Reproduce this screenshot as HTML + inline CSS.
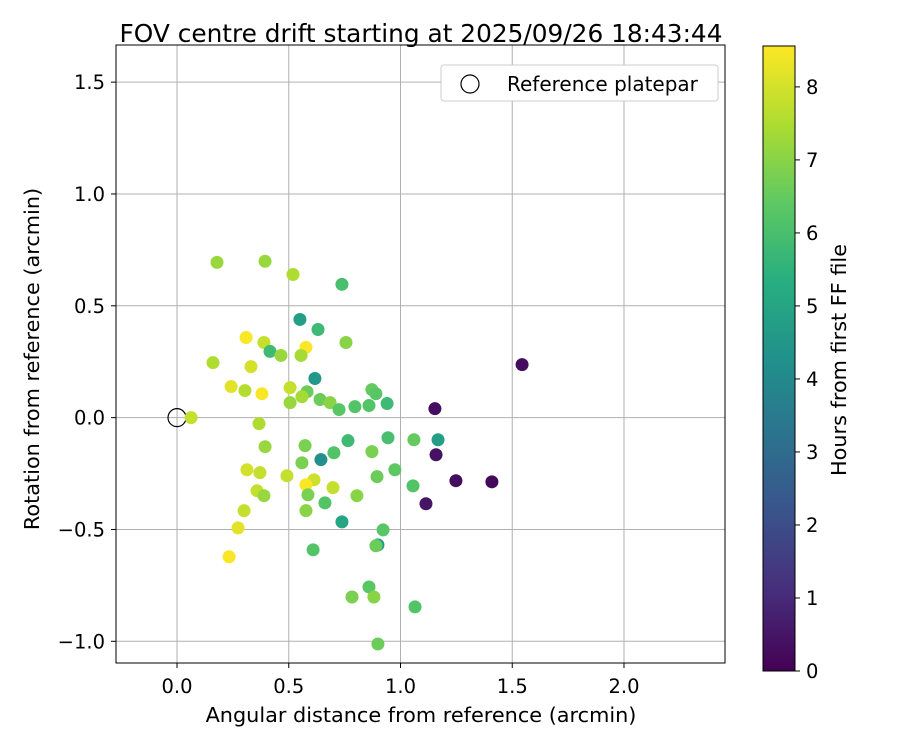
<!DOCTYPE html>
<html><head><meta charset="utf-8"><style>
body{margin:0;background:#fff;font-family:"DejaVu Sans","Liberation Sans",sans-serif}
svg text{font-family:"DejaVu Sans","Liberation Sans",sans-serif;fill:#000}
</style></head><body>
<svg id="chart" width="900" height="750" viewBox="0 0 900 750" xmlns="http://www.w3.org/2000/svg">
<defs>
<linearGradient id="vir" x1="0" y1="1" x2="0" y2="0">
<stop offset="0" stop-color="#440154"/><stop offset="0.125" stop-color="#472d7b"/><stop offset="0.25" stop-color="#3b528b"/><stop offset="0.375" stop-color="#2c728e"/><stop offset="0.5" stop-color="#21918c"/><stop offset="0.625" stop-color="#28ae80"/><stop offset="0.75" stop-color="#5ec962"/><stop offset="0.875" stop-color="#addc30"/><stop offset="1" stop-color="#fde725"/>
</linearGradient>
</defs>
<g id="grid"></g>
<g id="points"></g>
<rect x="116" y="45" width="609" height="618" fill="none" stroke="#000" stroke-width="1"/>
<g id="axes"></g>
<text x="421" y="42" font-size="24.8" text-anchor="middle">FOV centre drift starting at 2025/09/26 18:43:44</text>
<text x="421" y="722" font-size="20.8" text-anchor="middle">Angular distance from reference (arcmin)</text>
<text transform="translate(39,359) rotate(-90)" font-size="20.8" text-anchor="middle">Rotation from reference (arcmin)</text>
<g>
<rect x="441" y="65" width="277" height="36" rx="3" fill="#fff" stroke="#ccc"/>
<circle cx="470" cy="84" r="9" fill="none" stroke="#000" stroke-width="1.2"/>
<text x="507" y="91" font-size="20">Reference platepar</text>
</g>
<rect x="763" y="46" width="32" height="625" fill="url(#vir)" stroke="#000" stroke-width="1"/>
<g id="cbticks"></g>
<text transform="translate(846,360) rotate(-90)" font-size="20.8" text-anchor="middle">Hours from first FF file</text>
</svg>
<script>
const xTicks=[0.0,0.5,1.0,1.5,2.0];
const yTicks=[-1.0,-0.5,0.0,0.5,1.0,1.5];
const cbTicks=[0,1,2,3,4,5,6,7,8];
const xs=[0.063,0.179,0.394,0.519,0.738,0.550,0.631,0.309,0.389,0.756,0.577,0.416,0.465,0.555,0.161,0.331,1.544,0.617,0.242,0.506,0.380,0.304,0.582,0.559,0.872,0.890,0.640,0.506,0.685,0.940,0.725,0.796,0.859,1.154,0.367,0.765,1.060,1.168,0.944,0.394,0.573,1.159,0.872,0.702,0.644,0.559,0.313,0.371,0.492,0.975,0.895,1.248,1.409,0.613,0.577,0.698,1.056,0.358,0.389,0.586,0.805,0.662,1.114,0.300,0.577,0.738,0.273,0.922,0.233,0.609,0.899,0.890,0.859,0.783,0.881,1.065,0.899];
const ys=[0,0.694,0.699,0.640,0.596,0.439,0.394,0.358,0.336,0.336,0.314,0.296,0.278,0.278,0.246,0.228,0.237,0.175,0.139,0.134,0.107,0.121,0.116,0.094,0.125,0.107,0.081,0.067,0.067,0.063,0.036,0.049,0.054,0.040,-0.027,-0.103,-0.099,-0.099,-0.090,-0.130,-0.125,-0.166,-0.152,-0.157,-0.188,-0.202,-0.233,-0.246,-0.260,-0.233,-0.264,-0.282,-0.287,-0.278,-0.300,-0.313,-0.305,-0.327,-0.349,-0.345,-0.349,-0.381,-0.385,-0.416,-0.416,-0.466,-0.493,-0.502,-0.622,-0.591,-0.569,-0.573,-0.757,-0.802,-0.802,-0.846,-1.012];
const hours=[7.8,7.2,7.2,7.5,6.0,4.8,5.8,8.5,7.8,7.0,8.5,5.8,7.2,7.4,7.5,8.0,0.3,4.5,8.2,7.8,8.5,7.6,6.6,7.4,6.5,6.3,6.6,7.2,7.0,5.8,6.3,6.2,6.2,0.3,7.5,5.8,6.5,4.8,6.0,7.2,6.8,0.4,6.8,6.2,4.2,6.8,8.0,7.8,7.8,6.4,6.6,0.3,0.2,7.9,8.5,7.8,6.2,7.8,7.2,6.8,7.0,6.2,0.5,7.8,7.0,5.0,8.2,6.3,8.5,6.2,4.8,6.6,6.3,6.8,7.0,6.2,6.6];
const NS="http://www.w3.org/2000/svg";
const X0=116,X1=725,Y0=45,Y1=663,xmin=-0.273,xmax=2.452,ymin=-1.097,ymax=1.666,hmax=8.56;
const sx=v=>X0+(v-xmin)/(xmax-xmin)*(X1-X0);
const sy=v=>Y1-(v-ymin)/(ymax-ymin)*(Y1-Y0);
const sc=h=>671-h/hmax*625;
const vir=[[68,1,84],[71,45,123],[59,82,139],[44,114,142],[33,145,140],[40,174,128],[94,201,98],[173,220,48],[253,231,37]];
function cmap(h){let t=Math.max(0,Math.min(1,h/hmax))*8;let i=Math.min(7,Math.floor(t));let f=t-i;const a=vir[i],b=vir[i+1];return `rgb(${a.map((v,k)=>Math.round(v+(b[k]-v)*f)).join(',')})`;}
function mk(tag,attrs,parent){const e=document.createElementNS(NS,tag);for(const k in attrs)e.setAttribute(k,attrs[k]);parent.appendChild(e);return e;}
const grid=document.getElementById('grid'),axes=document.getElementById('axes'),pts=document.getElementById('points'),cbt=document.getElementById('cbticks');
const fmt=v=>(v<0?'\u2212':'')+Math.abs(v).toFixed(1);
xTicks.forEach(v=>{const x=sx(v);
const g=mk('line',{x1:x,x2:x,y1:Y0,y2:Y1,stroke:'#b0b0b0','stroke-width':1},grid);

mk('line',{x1:x,x2:x,y1:Y1,y2:Y1+5,stroke:'#000'},axes);
const t=mk('text',{x:x,y:Y1+30,'font-size':19.5,'text-anchor':'middle'},axes);t.textContent=fmt(v);
});
yTicks.forEach(v=>{const y=sy(v);
const g=mk('line',{x1:X0,x2:X1,y1:y,y2:y,stroke:'#b0b0b0','stroke-width':1},grid);

mk('line',{x1:X0-5,x2:X0,y1:y,y2:y,stroke:'#000'},axes);
const t=mk('text',{x:X0-11,y:y+7,'font-size':19.5,'text-anchor':'end'},axes);t.textContent=fmt(v);
});
const ref=mk('circle',{cx:sx(0),cy:sy(0),r:9,fill:'none',stroke:'#000','stroke-width':1.2},pts);

xs.forEach((v,i)=>{const c=mk('circle',{cx:sx(v),cy:sy(ys[i]),r:6.5,fill:cmap(hours[i])},pts);
});
cbTicks.forEach(v=>{const y=sc(v);mk('line',{x1:795,x2:800,y1:y,y2:y,stroke:'#000'},cbt);
const t=mk('text',{x:806,y:y+7,'font-size':19.5},cbt);t.textContent=v;
});
</script>
</body></html>
